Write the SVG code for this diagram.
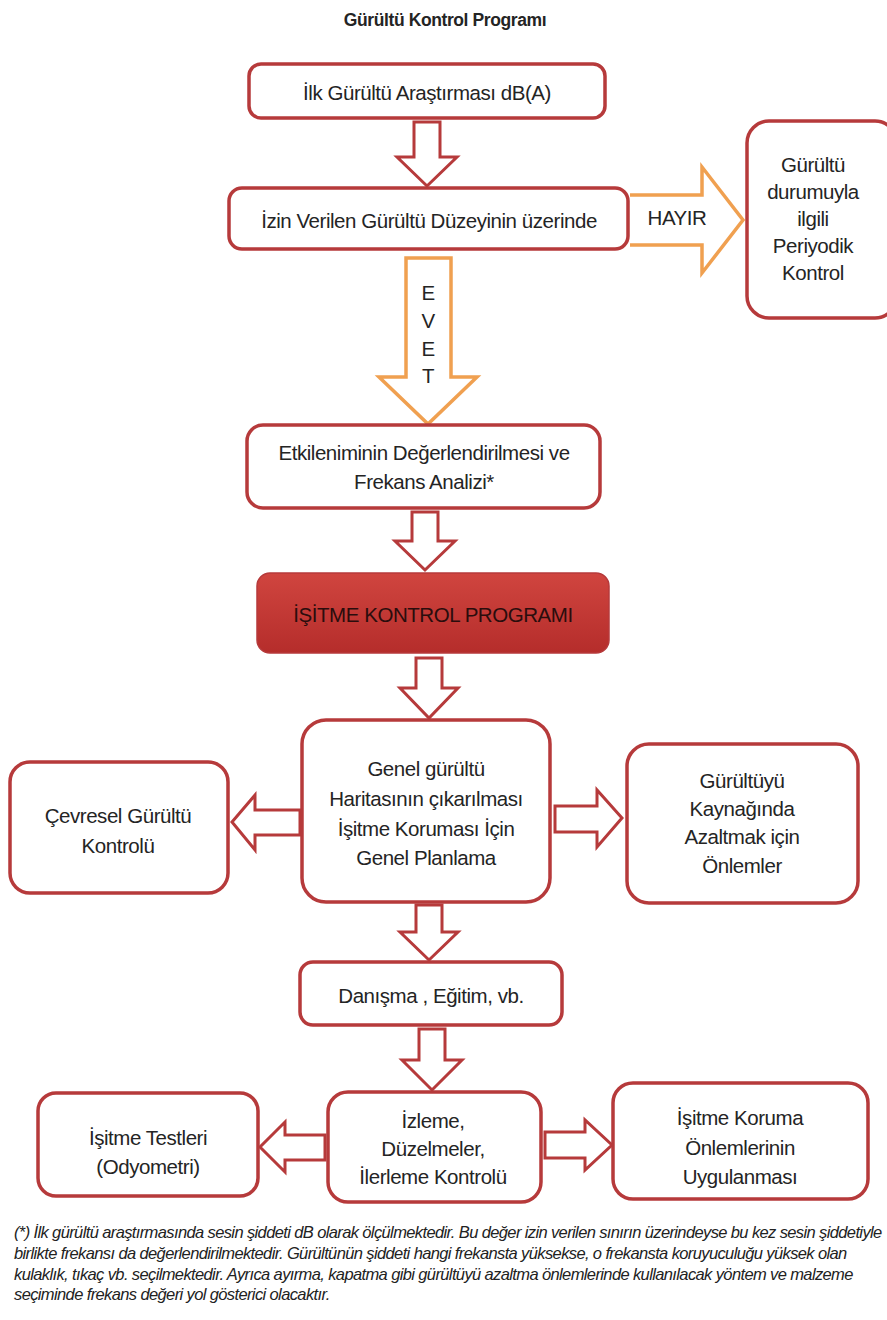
<svg xmlns="http://www.w3.org/2000/svg" width="887" height="1320" viewBox="0 0 887 1320">
<style>
.box{fill:#fff;stroke:#b63a3b;stroke-width:3.5}
.arr{fill:#fff;stroke:#b63a3b;stroke-width:3;stroke-linejoin:miter}
.oarr{fill:#fff;stroke:#f0a050;stroke-width:3.5;stroke-linejoin:miter}
text{font-family:"Liberation Sans",Arial,sans-serif;fill:#242424;text-anchor:middle;dominant-baseline:central}
.t{font-size:20.5px;letter-spacing:-0.45px}
.title{font-size:17.5px;font-weight:bold;letter-spacing:-0.4px}
.note{font-size:16.5px;font-style:italic;text-anchor:start;dominant-baseline:auto;letter-spacing:-0.62px;fill:#222}
</style>
<defs>
<linearGradient id="red" x1="0" y1="0" x2="0" y2="1">
<stop offset="0" stop-color="#d0453f"/>
<stop offset="1" stop-color="#b52d2b"/>
</linearGradient>
</defs>
<rect width="887" height="1320" fill="#fff"/>
<text class="title" x="445" y="20">Gürültü Kontrol Programı</text>

<g id="connectors">
<path class="arr" d="M414,122 H440 V157 H457 L427,186 L397,157 H414 Z"/>
<path class="oarr" d="M630,195 H702 V167 L743,220 L702,273 V245 H630"/>
<text class="t" x="677" y="217">HAYIR</text>
<path class="oarr" d="M406,258 H451 V377 H477 L428,424 L379,377 H406 Z"/>
<text class="t" x="428" y="292">E</text>
<text class="t" x="428" y="320">V</text>
<text class="t" x="428" y="348">E</text>
<text class="t" x="428" y="375">T</text>
<path class="arr" d="M412,512 H438 V541 H455 L425,570 L395,541 H412 Z"/>
<path class="arr" d="M416,658 H442 V688 H458 L429,718 L400,688 H416 Z"/>
<path class="arr" d="M300,810 H255 V795 L232,822 L255,850 V835 H300 Z"/>
<path class="arr" d="M555,806 H597 V790 L622,818 L597,847 V832 H555 Z"/>
<path class="arr" d="M416,905 H442 V932 H458 L429,960 L400,932 H416 Z"/>
<path class="arr" d="M419,1029 H445 V1060 H462 L432,1090 L402,1060 H419 Z"/>
<path class="arr" d="M325,1135 H285 V1122 L260,1147 L285,1172 V1160 H325 Z"/>
<path class="arr" d="M545,1132 H585 V1120 L612,1145 L585,1170 V1158 H545 Z"/>
</g>

<g id="n1"><rect class="box" x="249" y="64" width="356" height="54" rx="12"/>
<text class="t" x="427" y="92">İlk Gürültü Araştırması dB(A)</text></g>

<g id="n2"><rect class="box" x="229" y="188" width="399" height="61" rx="13"/>
<text class="t" x="429" y="220">İzin Verilen Gürültü Düzeyinin üzerinde</text></g>

<g id="n3"><rect class="box" x="747" y="121" width="150" height="197" rx="22"/>
<text class="t" x="813" y="164">Gürültü</text>
<text class="t" x="813" y="191">durumuyla</text>
<text class="t" x="813" y="218">ilgili</text>
<text class="t" x="813" y="245">Periyodik</text>
<text class="t" x="813" y="272">Kontrol</text></g>

<g id="n4"><rect class="box" x="247" y="425" width="353" height="83" rx="16"/>
<text class="t" x="424" y="452">Etkileniminin Değerlendirilmesi ve</text>
<text class="t" x="424" y="481">Frekans Analizi*</text></g>

<g id="n5"><rect x="257" y="573" width="352" height="80" rx="13" fill="url(#red)" stroke="#b63a3b" stroke-width="1.5"/>
<text class="t" x="433" y="614" style="fill:#2a0d0d">İŞİTME KONTROL PROGRAMI</text></g>

<g id="n6"><rect class="box" x="302" y="720" width="248" height="182" rx="24"/>
<text class="t" x="426" y="768">Genel gürültü</text>
<text class="t" x="426" y="798">Haritasının çıkarılması</text>
<text class="t" x="426" y="828">İşitme Koruması İçin</text>
<text class="t" x="426" y="857">Genel Planlama</text></g>

<g id="n7"><rect class="box" x="10" y="762" width="218" height="131" rx="20"/>
<text class="t" x="118" y="815">Çevresel Gürültü</text>
<text class="t" x="118" y="845">Kontrolü</text></g>

<g id="n8"><rect class="box" x="627" y="744" width="231" height="159" rx="22"/>
<text class="t" x="742" y="780">Gürültüyü</text>
<text class="t" x="742" y="808">Kaynağında</text>
<text class="t" x="742" y="836">Azaltmak için</text>
<text class="t" x="742" y="865">Önlemler</text></g>

<g id="n9"><rect class="box" x="300" y="962" width="262" height="63" rx="13"/>
<text class="t" x="431" y="995">Danışma , Eğitim, vb.</text></g>

<g id="n10"><rect class="box" x="328" y="1092" width="213" height="110" rx="20"/>
<text class="t" x="433" y="1120">İzleme,</text>
<text class="t" x="433" y="1148">Düzelmeler,</text>
<text class="t" x="433" y="1176">İlerleme Kontrolü</text></g>

<g id="n11"><rect class="box" x="38" y="1093" width="220" height="103" rx="18"/>
<text class="t" x="148" y="1137">İşitme Testleri</text>
<text class="t" x="148" y="1166">(Odyometri)</text></g>

<g id="n12"><rect class="box" x="613" y="1083" width="255" height="116" rx="20"/>
<text class="t" x="740" y="1117">İşitme Koruma</text>
<text class="t" x="740" y="1147">Önlemlerinin</text>
<text class="t" x="740" y="1176">Uygulanması</text></g>

<g id="footnote">
<text class="note" x="14" y="1238">(*) İlk gürültü araştırmasında sesin şiddeti dB olarak ölçülmektedir. Bu değer izin verilen sınırın üzerindeyse bu kez sesin şiddetiyle</text>
<text class="note" x="14" y="1259">birlikte frekansı da değerlendirilmektedir. Gürültünün şiddeti hangi frekansta yüksekse, o frekansta koruyuculuğu yüksek olan</text>
<text class="note" x="14" y="1280">kulaklık, tıkaç vb. seçilmektedir. Ayrıca ayırma, kapatma gibi gürültüyü azaltma önlemlerinde kullanılacak yöntem ve malzeme</text>
<text class="note" x="14" y="1300">seçiminde frekans değeri yol gösterici olacaktır.</text>
</g>
</svg>
